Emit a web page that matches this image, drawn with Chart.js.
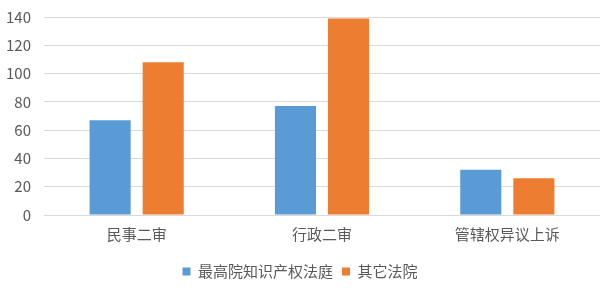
<!DOCTYPE html>
<html lang="zh">
<head>
    <meta charset="UTF-8">
    <title>二审案件来源</title>
    <script src="https://cdn.jsdelivr.net/npm/chart.js"></script>
    <style>
        html, body { margin: 0; padding: 0; background: #fff; }
        .wrap { width: 609px; height: 289px; }
    </style>
</head>
<body>
    <div class="wrap"><canvas id="c"></canvas></div>
    <script>
        // 数据
        const categories = ['民事二审', '行政二审', '管辖权异议上诉'];
        const seriesNames = ['最高院知识产权法庭', '其它法院'];
        const zgyValues = [67, 77, 32];
        const otherValues = [108, 139, 26];

        const font = "'Noto Sans CJK SC', 'DejaVu Sans', sans-serif";

        new Chart(document.getElementById('c'), {
            type: 'bar',
            data: {
                labels: categories,
                datasets: [
                    { label: seriesNames[0], data: zgyValues, backgroundColor: '#5b9bd5' },
                    { label: seriesNames[1], data: otherValues, backgroundColor: '#ed7d31' }
                ]
            },
            options: {
                responsive: true,
                maintainAspectRatio: false,
                animation: false,
                categoryPercentage: 0.573,
                barPercentage: 0.774,
                layout: { padding: { top: 17, right: 9, left: 0, bottom: 0 } },
                scales: {
                    x: {
                        grid: { display: false },
                        border: { display: false },
                        ticks: { color: '#595959', font: { family: font, size: 15 }, padding: 2 },
                        afterFit: s => { s.height = 40; }
                    },
                    y: {
                        min: 0,
                        max: 140,
                        ticks: { stepSize: 20, color: '#595959', font: { family: font, size: 15 }, padding: 13 },
                        grid: { color: '#d9d9d9', drawTicks: false },
                        border: { display: false },
                        afterFit: s => { s.width = 44; s.paddingTop = 0; s.paddingBottom = 0; }
                    }
                },
                plugins: {
                    legend: {
                        position: 'bottom',
                        labels: {
                            boxWidth: 8,
                            boxHeight: 8,
                            color: '#595959',
                            font: { family: font, size: 15 },
                            padding: 9
                        }
                    },
                    tooltip: { enabled: false }
                }
            }
        });
    </script>
</body>
</html>
